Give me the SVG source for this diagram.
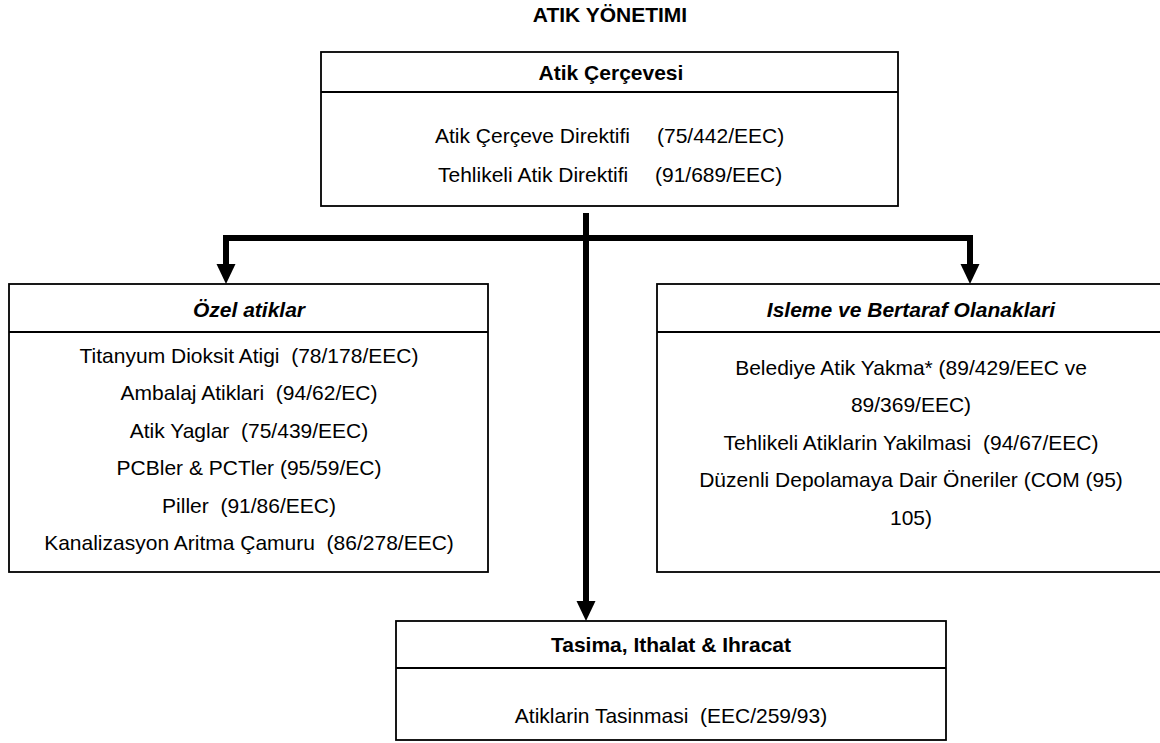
<svg xmlns="http://www.w3.org/2000/svg" width="1160" height="743" viewBox="0 0 1160 743" xml:space="preserve">
  <style>
    .box { fill: #ffffff; stroke: #000000; stroke-width: 1.8; }
    .rule { stroke: #000000; stroke-width: 1.8; }
    .t { font-family: "Liberation Sans", Arial, sans-serif; font-size: 21px; fill: #000000; white-space: pre; }
    .c { text-anchor: middle; }
    .h { font-weight: bold; text-anchor: middle; }
    .hi { font-weight: bold; font-style: italic; text-anchor: middle; }
    .wire { stroke: #000000; stroke-width: 6; fill: none; }
    .head { fill: #000000; }
  </style>

  <text class="t h" x="610" y="22">ATIK YÖNETIMI</text>

  <!-- thick black connectors: trunk, branch bar and the three drops -->
  <g id="connectors">
    <line class="wire" x1="586" y1="213" x2="586" y2="603"/>
    <polygon class="head" points="576.5,601 595.5,601 586,621"/>
    <line class="wire" x1="223" y1="238" x2="973" y2="238"/>
    <line class="wire" x1="226" y1="235" x2="226" y2="266"/>
    <polygon class="head" points="216.5,264 235.5,264 226,284"/>
    <line class="wire" x1="970" y1="235" x2="970" y2="266"/>
    <polygon class="head" points="960.5,264 979.5,264 970,284"/>
  </g>

  <g id="node-cerceve">
    <rect class="box" x="321" y="52" width="577" height="154"/>
    <line class="rule" x1="321" y1="92" x2="898" y2="92"/>
    <text class="t h" x="611" y="80">Atik Çerçevesi</text>
    <text class="t" x="435" y="143">Atik Çerçeve Direktifi</text>
    <text class="t" x="657" y="143">(75/442/EEC)</text>
    <text class="t" x="438" y="182">Tehlikeli Atik Direktifi</text>
    <text class="t" x="655" y="182">(91/689/EEC)</text>
  </g>

  <g id="node-ozel">
    <rect class="box" x="9" y="284" width="479" height="288"/>
    <line class="rule" x1="9" y1="332" x2="488" y2="332"/>
    <text class="t hi" x="249" y="317">Özel atiklar</text>
    <text class="t c" x="249" y="363">Titanyum Dioksit Atigi  (78/178/EEC)</text>
    <text class="t c" x="249" y="400">Ambalaj Atiklari  (94/62/EC)</text>
    <text class="t c" x="249" y="438">Atik Yaglar  (75/439/EEC)</text>
    <text class="t c" x="249" y="475">PCBler &amp; PCTler (95/59/EC)</text>
    <text class="t c" x="249" y="513">Piller  (91/86/EEC)</text>
    <text class="t c" x="249" y="550">Kanalizasyon Aritma Çamuru  (86/278/EEC)</text>
  </g>

  <g id="node-isleme">
    <rect class="box" x="657" y="284" width="510" height="288"/>
    <line class="rule" x1="657" y1="332" x2="1167" y2="332"/>
    <text class="t hi" x="911" y="317">Isleme ve Bertaraf Olanaklari</text>
    <text class="t c" x="911" y="375">Belediye Atik Yakma* (89/429/EEC ve</text>
    <text class="t c" x="911" y="412">89/369/EEC)</text>
    <text class="t c" x="911" y="450">Tehlikeli Atiklarin Yakilmasi  (94/67/EEC)</text>
    <text class="t c" x="911" y="487">Düzenli Depolamaya Dair Öneriler (COM (95)</text>
    <text class="t c" x="911" y="525">105)</text>
  </g>

  <g id="node-tasima">
    <rect class="box" x="396" y="621" width="550" height="119"/>
    <line class="rule" x1="396" y1="668" x2="946" y2="668"/>
    <text class="t h" x="671" y="652">Tasima, Ithalat &amp; Ihracat</text>
    <text class="t c" x="671" y="723">Atiklarin Tasinmasi  (EEC/259/93)</text>
  </g>
</svg>
